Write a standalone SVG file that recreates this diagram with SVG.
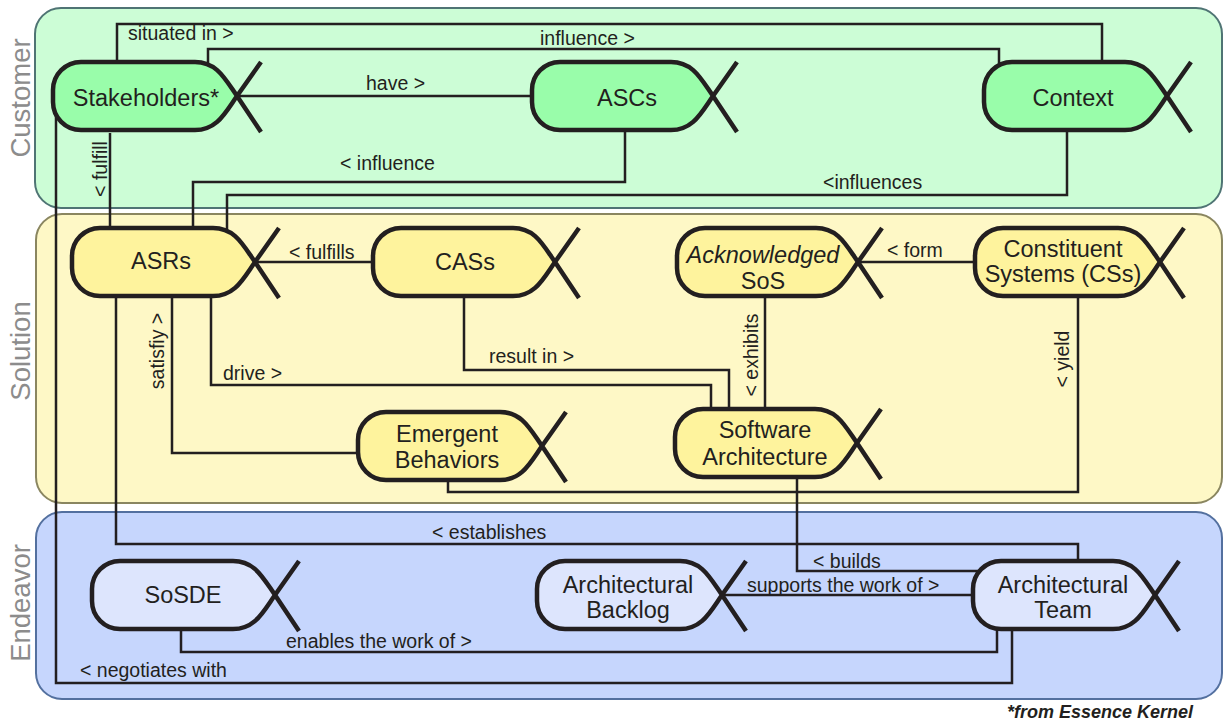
<svg xmlns="http://www.w3.org/2000/svg" width="1224" height="725" viewBox="0 0 1224 725">
<style>
.pc{fill:#ccfdd6;stroke:#4f7474;stroke-width:2}
.ps{fill:#fef8c6;stroke:#8a8660;stroke-width:2}
.pe{fill:#c6d6fd;stroke:#53709f;stroke-width:2}
.pl{font-family:"Liberation Sans",Arial,sans-serif;font-size:27.5px;fill:#8c8c8c;text-anchor:middle}
.cn{fill:none;stroke:#231f20;stroke-width:2.5}
.lb{font-family:"Liberation Sans",Arial,sans-serif;font-size:19.5px;fill:#231f20}
.nd{stroke:#231f20;stroke-width:4.5;stroke-linejoin:round}
.tl{fill:none;stroke:#231f20;stroke-width:4.5}
.g{fill:#99fdaa}.y{fill:#fef39d}.b{fill:#dde5fd}
.nt{font-family:"Liberation Sans",Arial,sans-serif;font-size:23.5px;fill:#231f20;text-anchor:middle}
</style>
<g id="panels">
<rect class="pc" x="35" y="8" width="1187" height="200" rx="26"/>
<rect class="ps" x="36" y="214" width="1186" height="289" rx="26"/>
<rect class="pe" x="36" y="512" width="1186" height="187" rx="26"/>
<text class="pl" transform="translate(30,98) rotate(-90)">Customer</text>
<text class="pl" transform="translate(30,351) rotate(-90)">Solution</text>
<text class="pl" transform="translate(30,603) rotate(-90)">Endeavor</text>
</g>
<g id="connectors">
<path class="cn" d="M117,70 V24 H1102 V70"/>
<path class="cn" d="M208,70 V49 H999 V70"/>
<path class="cn" d="M237,96 H540"/>
<path class="cn" d="M625,125 V182 H193 V235"/>
<path class="cn" d="M1067,125 V195 H227 V235"/>
<path class="cn" d="M110,133 V235"/>
<path class="cn" d="M56,100 V683 H1012 V620"/>
<path class="cn" d="M116,290 V544 H1078 V568"/>
<path class="cn" d="M172,290 V453 H365"/>
<path class="cn" d="M211,290 V385 H711 V415"/>
<path class="cn" d="M255,262 H380"/>
<path class="cn" d="M464,290 V370 H729 V415"/>
<path class="cn" d="M765,290 V415"/>
<path class="cn" d="M858,262 H982"/>
<path class="cn" d="M1078,290 V492 H448 V470"/>
<path class="cn" d="M797,470 V571 H985"/>
<path class="cn" d="M722,595 H980"/>
<path class="cn" d="M181,620 V652 H997 V620"/>
<text class="lb" x="128" y="40">situated in &gt;</text>
<text class="lb" x="540" y="45">influence &gt;</text>
<text class="lb" x="366" y="90">have &gt;</text>
<text class="lb" x="340" y="170">&lt; influence</text>
<text class="lb" x="823" y="189">&lt;influences</text>
<text class="lb" text-anchor="middle" transform="translate(107,169) rotate(-90)">&lt; fulfill</text>
<text class="lb" text-anchor="middle" transform="translate(164,351) rotate(-90)">satisfiy &gt;</text>
<text class="lb" x="223" y="380">drive &gt;</text>
<text class="lb" x="289" y="259">&lt; fulfills</text>
<text class="lb" x="489" y="363">result in &gt;</text>
<text class="lb" text-anchor="middle" transform="translate(758,355) rotate(-90)">&lt; exhibits</text>
<text class="lb" x="887" y="257">&lt; form</text>
<text class="lb" text-anchor="middle" transform="translate(1069,359) rotate(-90)">&lt; yield</text>
<text class="lb" x="432" y="539">&lt; establishes</text>
<text class="lb" x="813" y="568">&lt; builds</text>
<text class="lb" x="747" y="592">supports the work of &gt;</text>
<text class="lb" x="286" y="648">enables the work of &gt;</text>
<text class="lb" x="80" y="677">&lt; negotiates with</text>
</g>
<g id="stakeholders">
<path class="nd g" d="M81,62 H195 C217,62 225,79 237,96 C225,113 217,130 195,130 H81 A28,28 0 0 1 53,102 V90 A28,28 0 0 1 81,62 Z"/>
<path class="tl" d="M237,96 L261,62 M237,96 L261,132"/>
<text class="nt" x="146" y="106">Stakeholders*</text>
</g>
<g id="ascs">
<path class="nd g" d="M560,62 H671 C693,62 701,79 713,96 C701,113 693,130 671,130 H560 A28,28 0 0 1 532,102 V90 A28,28 0 0 1 560,62 Z"/>
<path class="tl" d="M713,96 L737,62 M713,96 L737,132"/>
<text class="nt" x="627" y="106">ASCs</text>
</g>
<g id="context">
<path class="nd g" d="M1012,62 H1125 C1147,62 1155,79 1167,96 C1155,113 1147,130 1125,130 H1012 A28,28 0 0 1 984,102 V90 A28,28 0 0 1 1012,62 Z"/>
<path class="tl" d="M1167,96 L1191,62 M1167,96 L1191,132"/>
<text class="nt" x="1073" y="106">Context</text>
</g>
<g id="asrs">
<path class="nd y" d="M100,228 H213 C235,228 243,245 255,262 C243,279 235,296 213,296 H100 A28,28 0 0 1 72,268 V256 A28,28 0 0 1 100,228 Z"/>
<path class="tl" d="M255,262 L279,228 M255,262 L279,298"/>
<text class="nt" x="161" y="269">ASRs</text>
</g>
<g id="cass">
<path class="nd y" d="M401,228 H513 C535,228 543,245 555,262 C543,279 535,296 513,296 H401 A28,28 0 0 1 373,268 V256 A28,28 0 0 1 401,228 Z"/>
<path class="tl" d="M555,262 L579,228 M555,262 L579,298"/>
<text class="nt" x="465" y="270">CASs</text>
</g>
<g id="acknowledged-sos">
<path class="nd y" d="M705,228 H816 C838,228 846,245 858,262 C846,279 838,296 816,296 H705 A28,28 0 0 1 677,268 V256 A28,28 0 0 1 705,228 Z"/>
<path class="tl" d="M858,262 L882,228 M858,262 L882,298"/>
<text class="nt" x="763" y="263" font-style="italic">Acknowledged</text>
<text class="nt" x="763" y="289">SoS</text>
</g>
<g id="constituent-systems">
<path class="nd y" d="M1003,228 H1118 C1140,228 1148,245 1160,262 C1148,279 1140,296 1118,296 H1003 A28,28 0 0 1 975,268 V256 A28,28 0 0 1 1003,228 Z"/>
<path class="tl" d="M1160,262 L1184,228 M1160,262 L1184,298"/>
<text class="nt" x="1063" y="257">Constituent</text>
<text class="nt" x="1063" y="282">Systems (CSs)</text>
</g>
<g id="emergent-behaviors">
<path class="nd y" d="M386,412 H500 C522,412 530,429 542,446 C530,463 522,480 500,480 H386 A28,28 0 0 1 358,452 V440 A28,28 0 0 1 386,412 Z"/>
<path class="tl" d="M542,446 L566,412 M542,446 L566,482"/>
<text class="nt" x="447" y="442">Emergent</text>
<text class="nt" x="447" y="468">Behaviors</text>
</g>
<g id="software-architecture">
<path class="nd y" d="M703,409 H815 C837,409 845,426 857,443 C845,460 837,477 815,477 H703 A28,28 0 0 1 675,449 V437 A28,28 0 0 1 703,409 Z"/>
<path class="tl" d="M857,443 L881,409 M857,443 L881,479"/>
<text class="nt" x="765" y="438">Software</text>
<text class="nt" x="765" y="465">Architecture</text>
</g>
<g id="sosde">
<path class="nd b" d="M120,561 H233 C255,561 263,578 275,595 C263,612 255,629 233,629 H120 A28,28 0 0 1 92,601 V589 A28,28 0 0 1 120,561 Z"/>
<path class="tl" d="M275,595 L299,561 M275,595 L299,631"/>
<text class="nt" x="183" y="603">SoSDE</text>
</g>
<g id="architectural-backlog">
<path class="nd b" d="M565,561 H680 C702,561 710,578 722,595 C710,612 702,629 680,629 H565 A28,28 0 0 1 537,601 V589 A28,28 0 0 1 565,561 Z"/>
<path class="tl" d="M722,595 L746,561 M722,595 L746,631"/>
<text class="nt" x="628" y="593">Architectural</text>
<text class="nt" x="628" y="618">Backlog</text>
</g>
<g id="architectural-team">
<path class="nd b" d="M1001,561 H1113 C1135,561 1143,578 1155,595 C1143,612 1135,629 1113,629 H1001 A28,28 0 0 1 973,601 V589 A28,28 0 0 1 1001,561 Z"/>
<path class="tl" d="M1155,595 L1179,561 M1155,595 L1179,631"/>
<text class="nt" x="1063" y="593">Architectural</text>
<text class="nt" x="1063" y="618">Team</text>
</g>
<text x="1193" y="718" text-anchor="end" font-family="Liberation Sans,Arial,sans-serif" font-size="18" font-weight="bold" font-style="italic" fill="#231f20">*from Essence Kernel</text>
</svg>
